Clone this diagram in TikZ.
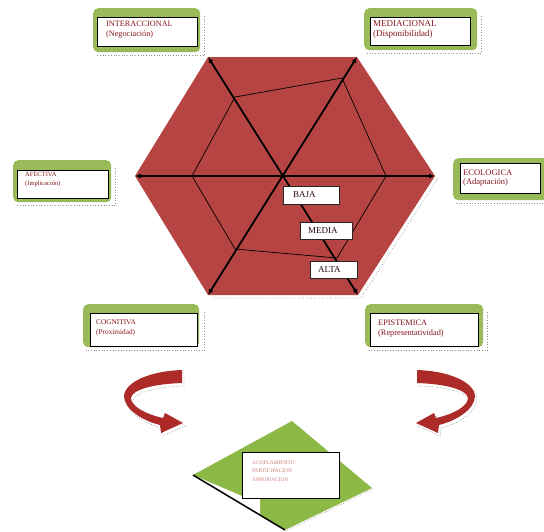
\documentclass[tikz,border=0pt]{standalone}
\usepackage{fontspec}
\setmainfont{Liberation Serif}
\usetikzlibrary{arrows.meta,calc}
\definecolor{hexred}{RGB}{182,68,66}
\definecolor{framegreen}{RGB}{152,186,88}
\definecolor{leaf}{RGB}{140,184,70}
\definecolor{ink}{RGB}{135,20,30}
\definecolor{shade}{RGB}{140,140,140}
\definecolor{arrowred}{RGB}{172,42,40}
\definecolor{paleink}{RGB}{205,125,125}
\begin{document}
\begin{tikzpicture}[x=1pt,y=-1pt,
  greenframe/.style={draw=none, fill=framegreen, rounded corners=5pt, anchor=north west, inner sep=0pt},
  whitebox/.style={draw=black, line width=1.1pt, fill=white, anchor=north west, inner sep=0pt},
  % multi-line captions: the node is placed at the baseline of its last line
  captext/.style={anchor=base west, align=left, inner sep=0pt, text=ink},
  shadowline/.style={draw=shade, dotted, line width=0.7pt},
  levelbox/.style={draw=black!85, line width=0.8pt, fill=white, anchor=north west, inner sep=0pt},
  leveltext/.style={anchor=west, inner sep=0pt, text=black!70!ink, font=\fontsize{9}{10}\selectfont},
  axis/.style={line width=1.8pt, {Latex[length=6pt,width=5pt]}-{Latex[length=6pt,width=5pt]}},
  web/.style={line width=0.7pt, draw=black}]
\useasboundingbox (0,0) rectangle (544,531);

% ---------- hexagon vertices ----------
\coordinate (vL)  at (135,176);
\coordinate (vTL) at (208,57);
\coordinate (vTR) at (357,57);
\coordinate (vR)  at (435,176);
\coordinate (vBR) at (358,295);
\coordinate (vBL) at (208,295);
% inner polygon on the axes
\coordinate (p1) at (235,97);
\coordinate (p2) at (342,78);
\coordinate (p3) at (386,176);
\coordinate (p4) at (337,258);
\coordinate (p5) at (235,249);
\coordinate (p6) at (192,176);

\draw[shadowline] ($(vR)+(3,2)$) -- ($(vBR)+(3,3)$) -- ($(vBL)+(5,3)$);
\fill[hexred] (vL) -- (vTL) -- (vTR) -- (vR) -- (vBR) -- (vBL) -- cycle;
\draw[web] (p1) -- (p2) -- (p3) -- (p4) -- (p5) -- (p6) -- cycle;
\draw[axis] (vL) -- (vR);
\draw[axis] (vTL) -- (vBR);
\draw[axis] (vBL) -- (vTR);

% level labels
\node[levelbox, minimum width=56pt, minimum height=18pt] (bBaja) at (283,186) {};
\node[leveltext] (tBaja) at (293,195) {BAJA};
\node[levelbox, minimum width=52pt, minimum height=17pt] (bMedia) at (300,222) {};
\node[leveltext] (tMedia) at (308,230.5) {MEDIA};
\node[levelbox, minimum width=47pt, minimum height=17pt] (bAlta) at (310,261) {};
\node[leveltext] (tAlta) at (318,269.5) {ALTA};

% ---------- dimension boxes ----------
% Interaccional
\node[greenframe, minimum width=107pt, minimum height=44pt] (g1) at (93,8) {};
\draw[shadowline] ($(g1.north east)+(4,8)$) -- ($(g1.south east)+(4,3)$) -- ($(g1.south west)+(3,3)$);
\node[whitebox, minimum width=100pt, minimum height=29pt] (w1) at (97,17) {};
\node[captext, font=\fontsize{8.2}{10.5}\selectfont] (t1) at (106,36.5) {INTERACCIONAL\\(Negociación)};
% Mediacional
\node[greenframe, minimum width=113pt, minimum height=42pt] (g2) at (364,8) {};
\draw[shadowline] ($(g2.north east)+(4,8)$) -- ($(g2.south east)+(4,3)$) -- ($(g2.south west)+(3,3)$);
\node[whitebox, minimum width=100pt, minimum height=28pt] (w2) at (370,17) {};
\node[captext, font=\fontsize{9}{10}\selectfont] (t2) at (373,36) {MEDIACIONAL\\(Disponibilidad)};
% Afectiva
\node[greenframe, minimum width=98pt, minimum height=42pt] (g3) at (13,160) {};
\draw[shadowline] ($(g3.north east)+(4,8)$) -- ($(g3.south east)+(4,3)$) -- ($(g3.south west)+(3,3)$);
\node[whitebox, minimum width=91pt, minimum height=28pt] (w3) at (17,170) {};
\node[captext, font=\fontsize{6.5}{8.5}\selectfont] (t3) at (25,185) {AFECTIVA\\(Implicación)};
% Ecologica
\node[greenframe, minimum width=100pt, minimum height=42pt] (g4) at (453,158) {};
\draw[shadowline] ($(g4.south west)+(3,3)$) -- ($(g4.south east)+(3,3)$);
\node[whitebox, minimum width=80pt, minimum height=30pt] (w4) at (460,163) {};
\node[captext, font=\fontsize{8.5}{9.5}\selectfont] (t4) at (463,184.5) {ECOLOGICA\\(Adaptación)};
% Cognitiva
\node[greenframe, minimum width=116pt, minimum height=43pt] (g5) at (83,304) {};
\draw[shadowline] ($(g5.north east)+(5,8)$) -- ($(g5.south east)+(5,3)$) -- ($(g5.south west)+(3,3)$);
\node[whitebox, minimum width=107pt, minimum height=33pt] (w5) at (90,313) {};
\node[captext, font=\fontsize{7.3}{10}\selectfont] (t5) at (96,334.5) {COGNITIVA\\(Proximidad)};
% Epistemica
\node[greenframe, minimum width=118pt, minimum height=43pt] (g6) at (365,304) {};
\draw[shadowline] ($(g6.north east)+(4,8)$) -- ($(g6.south east)+(4,3)$) -- ($(g6.south west)+(3,3)$);
\node[whitebox, minimum width=108pt, minimum height=33pt] (w6) at (370,313) {};
\node[captext, font=\fontsize{8.3}{10}\selectfont] (t6) at (378,335.5) {EPISTEMICA\\(Representatividad)};

% ---------- curved arrows ----------
\def\curvedarrow{(182,370) .. controls (150,371) and (125,382) .. (124,396)
  .. controls (124,408) and (140,420) .. (160,425) -- (161,433) -- (183,423)
  -- (165,413) -- (163,418) .. controls (145,414) and (131,406) .. (131,398)
  .. controls (132,390) and (152,384) .. (182,383) -- cycle}
\draw[shadowline, shift={(2,3)}] \curvedarrow;
\fill[arrowred] \curvedarrow;
\begin{scope}[shift={(599,0)}, xscale=-1]
  \draw[shadowline, shift={(-2,3)}] \curvedarrow;
  \fill[arrowred] \curvedarrow;
\end{scope}

% ---------- diamond ----------
\coordinate (dL) at (193,475);
\coordinate (dT) at (292,421);
\coordinate (dR) at (372,488);
\coordinate (dB) at (285,530);
\fill[leaf] (dL) -- (dT) -- (dR) -- (dB) -- cycle;
\fill[white] (dL) -- (242,496) -- (260,498) -- (260,516) -- cycle;
\draw[shadowline] ($(dR)+(1,1)$) -- ($(dB)+(1,1)$);
\draw[line width=1.5pt] (dL) -- (dB);
\node[whitebox, line width=1pt, minimum width=97pt, minimum height=46pt] (wD) at (242,452) {};
\node[captext, text=paleink, font=\fontsize{5.4}{8.5}\selectfont] (tD) at (252,481) {ACOPLAMIENTO\\PARTICIPACION\\APROPIACION};
\end{tikzpicture}
\end{document}
